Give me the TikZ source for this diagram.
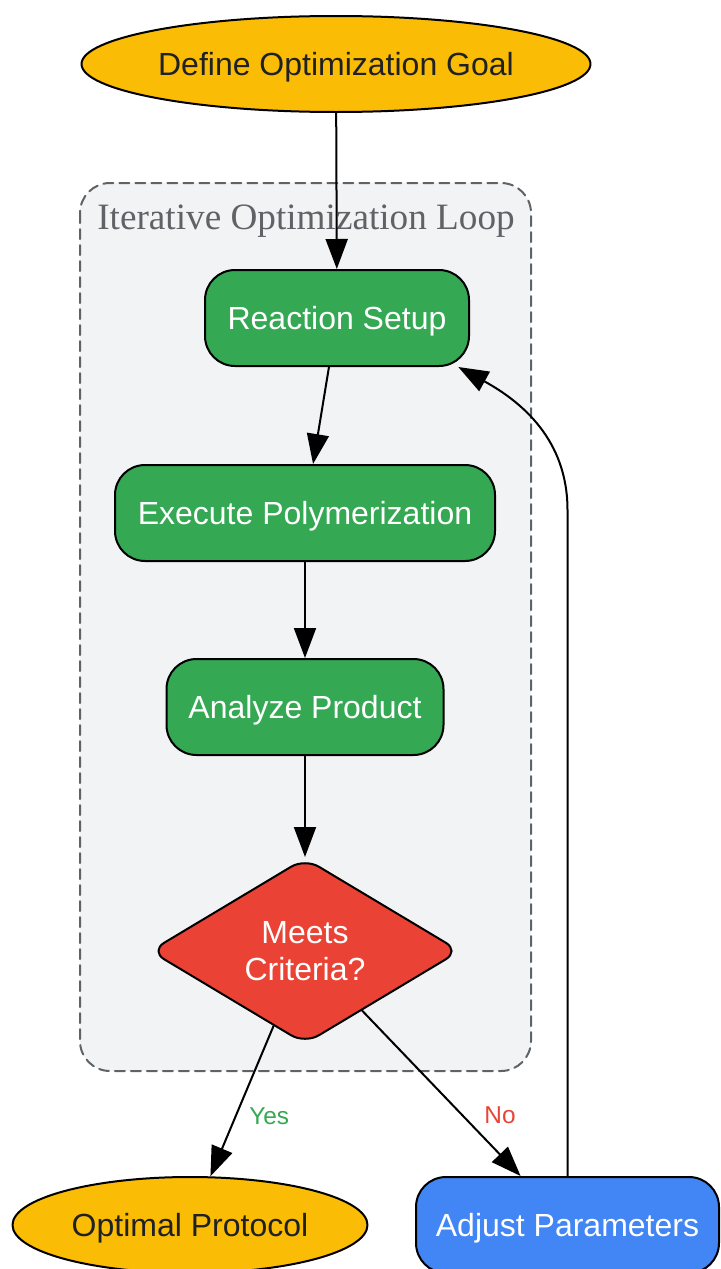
\documentclass[tikz,border=0pt]{standalone}
\usepackage{fontspec}
\setsansfont{Liberation Sans}
\newfontfamily\loopfont{Liberation Serif}
\usepackage{tikz}
\usetikzlibrary{arrows.meta,shapes.geometric}
\definecolor{goalyellow}{HTML}{FBBC05}
\definecolor{stepgreen}{HTML}{34A853}
\definecolor{checkred}{HTML}{EA4335}
\definecolor{adjustblue}{HTML}{4285F4}
\definecolor{loopgray}{HTML}{5F6368}
\definecolor{loopfill}{HTML}{F1F3F4}
\definecolor{darktext}{HTML}{202124}

\begin{document}
\begin{tikzpicture}[x=0.5pt,y=-0.5pt,line cap=round,line join=round,
  >={Triangle[length=15pt,width=11pt]},
  base/.style={draw=black,line width=1pt,inner sep=0pt,text depth=0pt,font=\sffamily\fontsize{16}{18.5}\selectfont},
  endpoint/.style={base,ellipse,fill=goalyellow,text=darktext,minimum height=48pt},
  stepbox/.style={base,rounded corners=15pt,fill=stepgreen,text=white,minimum height=48pt},
  checkbox/.style={base,diamond,fill=checkred,text=white,align=center,minimum width=155pt,minimum height=93pt,rounded corners=8pt},
  flow/.style={->,line width=1pt},
  answer/.style={font=\sffamily\fontsize{12.2}{14}\selectfont}]
\useasboundingbox (0,0) rectangle (720,1269);
\draw [loopgray,fill=loopfill,line width=1pt,dash pattern=on 5pt off 3pt,rounded corners=15pt] (80,183) rectangle (531,1071);
\node (looptitle) [text=loopgray,font=\loopfont\fontsize{18.6}{22}\selectfont] at (306,221) {Iterative Optimization Loop};
\node (goal) [endpoint,minimum width=254.5pt] at (336,64) {Define Optimization Goal};
\node (setup) [stepbox,minimum width=132pt] at (337,318) {Reaction Setup};
\node (execute) [stepbox,minimum width=190pt] at (305,513) {Execute Polymerization};
\node (analyze) [stepbox,minimum width=138.5pt] at (305,707) {Analyze Product};
\node (check) [checkbox] at (305,951) {Meets\\Criteria?};
\node (optimal) [endpoint,minimum width=177.5pt] at (190,1225) {Optimal Protocol};
\node (adjust) [stepbox,fill=adjustblue,minimum width=151.5pt] at (567.5,1225) {Adjust Parameters};
\coordinate (bend) at (567.5,510);
\draw [flow] (goal) -- (setup);
\draw [flow] (setup) -- (execute);
\draw [flow] (execute) -- (analyze);
\draw [flow] (analyze) -- (check);
\draw [flow] (check) -- (optimal) node [answer,text=stepgreen,pos=0.6,right=3pt] {Yes};
\draw [flow] (check) -- (adjust) node [answer,text=checkred,pos=0.635,right=7pt] {No};
\draw [flow] (adjust) -- (bend) .. controls (567.5,440) and (522,402) .. (setup.-22);
\end{tikzpicture}
\end{document}
